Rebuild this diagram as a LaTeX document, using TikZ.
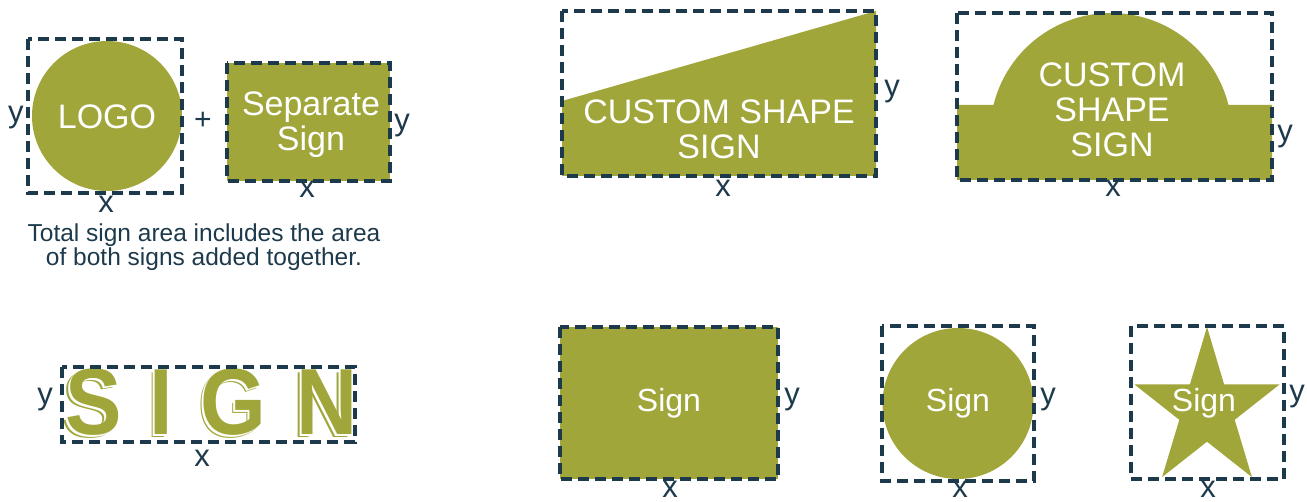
\documentclass[tikz,border=0pt]{standalone}
\usepackage{fontspec}
\setmainfont{Liberation Sans}
\definecolor{signolive}{HTML}{A0A63A}
\definecolor{signnavy}{HTML}{1D3A4C}
\begin{document}
\begin{tikzpicture}[x=1pt,y=-1pt,
  dashbox/.style={draw=signnavy, line width=3.2pt, dash pattern=on 11pt off 6pt},
  fillshape/.style={fill=signolive, draw=none},
  signtext/.style={text=white, font=\fontsize{34}{35}\selectfont, align=center, inner sep=0},
  smalltext/.style={text=white, font=\fontsize{32}{32}\selectfont, anchor=base, inner sep=0},
  dimlabel/.style={text=signnavy, font=\fontsize{31}{31}\selectfont, anchor=base, inner sep=0},
  letter/.style={font=\fontsize{94}{94}\selectfont\bfseries, anchor=base, inner sep=0}]
\useasboundingbox (0,0) rectangle (1307,502);

% ---------- logo plus separate sign ----------
\node[circle, fill=signolive, minimum size=150pt, inner sep=0] (logo) at (107,116) {};
\node[signtext, anchor=base] (logotext) at (107,129) {LOGO};
\draw[dashbox] (28,39) rectangle (182,193);
\node[dimlabel] (logoy) at (16,123) {y};
\node[dimlabel] (logox) at (106,213) {x};
\node[text=signnavy, font=\fontsize{30}{30}\selectfont, inner sep=0] (plus) at (203,121) {+};

\path[fillshape] (227,63) rectangle (390,181);
\node[signtext] (septext) at (311,125) {Separate\\Sign};
\draw[dashbox] (227,63) rectangle (390,181);
\node[dimlabel] (sepy) at (402,131) {y};
\node[dimlabel] (sepx) at (307,198) {x};

\node[text=signnavy, font=\fontsize{24.5}{23.5}\selectfont, align=center, inner sep=0] (caption) at (204,247)
  {Total sign area includes the area\\of both signs added together.};

% ---------- channel letters ----------
\foreach \ch/\px in {S/93.5, I/161.5, G/233.5, N/327} {
  \node[letter, text=signolive] (back\ch) at (\px-3.5,438) {\scalebox{0.9}[1]{\ch}};
  \node[letter, text=white] (mid\ch) at (\px-1.8,436.4) {\scalebox{0.9}[1]{\ch}};
  \node[letter, text=signolive] (front\ch) at (\px,435) {\scalebox{0.9}[1]{\ch}};
}
\draw[dashbox] (62,367) rectangle (355,442);
\node[dimlabel] (lettery) at (45,405) {y};
\node[dimlabel] (letterx) at (202,467) {x};

% ---------- custom shape with sloped top ----------
\path[fillshape] (562,101) -- (876,11) -- (876,176) -- (562,176) -- cycle;
\node[signtext] (slopetext) at (719,129.5) {CUSTOM SHAPE\\SIGN};
\draw[dashbox] (562,11) rectangle (876,176);
\node[dimlabel] (slopey) at (892,97) {y};
\node[dimlabel] (slopex) at (723,197) {x};

% ---------- custom shape with dome ----------
\path[fillshape] (957,180) -- (957,105) -- (993.5,105)
  arc[start angle=193.87, end angle=346.13, radius=121] -- (1272,105) -- (1272,180) -- cycle;
\node[signtext] (dometext) at (1112,109.5) {CUSTOM\\SHAPE\\SIGN};
\draw[dashbox] (957,13) rectangle (1272,180);
\node[dimlabel] (domey) at (1285,142) {y};
\node[dimlabel] (domex) at (1113,197) {x};

% ---------- rectangle ----------
\path[fillshape] (560,327) rectangle (778,479);
\node[smalltext] (recttext) at (669,412) {Sign};
\draw[dashbox] (560,327) rectangle (778,479);
\node[dimlabel] (recty) at (792,405) {y};
\node[dimlabel] (rectx) at (670,497.5) {x};

% ---------- circle ----------
\node[circle, fill=signolive, minimum size=151pt, inner sep=0] (round) at (958,403.5) {};
\node[smalltext] (roundtext) at (958,412) {Sign};
\draw[dashbox] (882,326) rectangle (1034,481);
\node[dimlabel] (roundy) at (1048,405) {y};
\node[dimlabel] (roundx) at (960,497.5) {x};

% ---------- star ----------
\path[fillshape] (1207,327) -- (1224.1,384.4) -- (1279.6,384.4) -- (1234.7,419.8)
  -- (1251.9,477.1) -- (1207,441.7) -- (1162.1,477.1) -- (1179.3,419.8)
  -- (1134.4,384.4) -- (1189.9,384.4) -- cycle;
\node[smalltext] (startext) at (1204,412) {Sign};
\draw[dashbox] (1131,326) rectangle (1284,479);
\node[dimlabel] (stary) at (1297,402) {y};
\node[dimlabel] (starx) at (1208,497.5) {x};
\end{tikzpicture}
\end{document}
